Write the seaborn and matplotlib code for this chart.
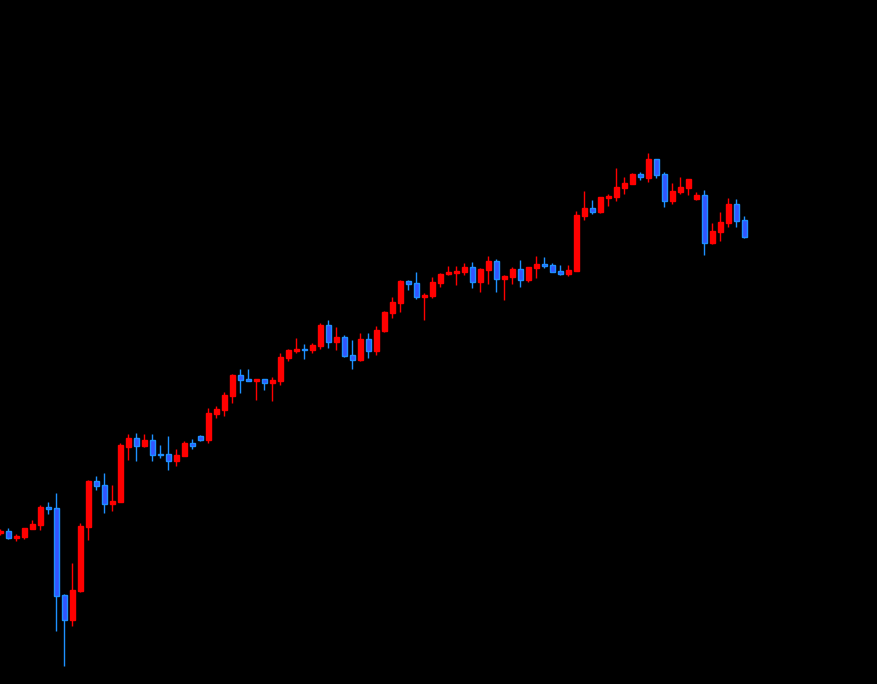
import numpy as np
import pandas as pd
import seaborn as sns
import matplotlib
matplotlib.use("Agg")
import matplotlib.pyplot as plt

# Estilo escuro, fundo preto
sns.set_theme(style="dark", rc={"axes.facecolor": "black", "figure.facecolor": "black"})

# Dados OHLC
abertura = [151, 153, 146, 147, 155, 159, 177, 176, 89, 64,
            93, 157, 203, 199, 180, 182, 237, 246, 238, 244,
            230, 230, 223, 228, 241, 248, 244, 270, 274, 288,
            309, 305, 303, 305, 301, 303, 326, 333, 335, 334,
            338, 359, 342, 347, 329, 324, 345, 333, 353, 371,
            381, 403, 401, 387, 388, 401, 410, 411, 412, 417,
            402, 414, 423, 405, 407, 415, 404, 416, 420, 419,
            413, 410, 413, 468, 476, 472, 486, 487, 496, 500,
            510, 506, 525, 510, 483, 492, 496, 485, 489, 441,
            452, 461, 480, 464]
maxima = [155, 156, 150, 156, 164, 179, 182, 191, 90, 121,
          161, 204, 208, 211, 199, 241, 250, 251, 250, 250,
          239, 248, 235, 243, 245, 249, 276, 278, 292, 310,
          315, 315, 305, 305, 307, 331, 335, 346, 340, 341,
          361, 364, 357, 349, 344, 351, 351, 358, 373, 387,
          404, 404, 412, 391, 407, 411, 418, 418, 421, 422,
          416, 428, 425, 409, 417, 424, 417, 428, 427, 421,
          419, 419, 473, 493, 484, 487, 490, 516, 507, 511,
          512, 531, 525, 512, 501, 507, 505, 492, 494, 461,
          472, 486, 485, 468]
minimas = [149, 145, 143, 145, 155, 154, 170, 53, 18, 58,
           92, 144, 194, 171, 173, 182, 224, 223, 237, 223,
           226, 214, 218, 228, 235, 243, 241, 266, 268, 281,
           291, 303, 284, 294, 283, 299, 323, 331, 325, 331,
           335, 336, 334, 327, 315, 323, 326, 329, 352, 366,
           372, 394, 385, 364, 386, 397, 409, 399, 409, 396,
           392, 400, 392, 384, 400, 397, 402, 406, 416, 412,
           409, 408, 413, 464, 470, 471, 478, 483, 490, 500,
           504, 502, 506, 477, 480, 490, 489, 484, 429, 440,
           443, 457, 457, 446]
fechamento = [153, 146, 148, 156, 160, 177, 175, 88, 64, 94,
              158, 203, 198, 180, 183, 239, 246, 238, 244, 229,
              229, 223, 229, 241, 238, 244, 271, 275, 289, 309,
              304, 303, 305, 301, 304, 327, 334, 335, 334, 339,
              359, 342, 347, 328, 324, 345, 333, 354, 372, 382,
              403, 400, 387, 389, 402, 410, 412, 413, 417, 402,
              415, 423, 405, 408, 415, 404, 417, 420, 418, 412,
              410, 414, 469, 476, 472, 487, 488, 497, 501, 510,
              507, 525, 509, 483, 493, 497, 505, 489, 441, 453,
              462, 480, 463, 447]

df = pd.DataFrame({"open": abertura, "high": maxima, "low": minimas, "close": fechamento})
df["x"] = np.arange(len(df))
df["alta"] = df["close"] >= df["open"]

cor_alta = "#ff0000"
cor_baixa_corpo = "#3355ff"
cor_baixa_borda = "#1e90ff"

fig = plt.figure(figsize=(8.77, 6.84), dpi=100)
ax = fig.add_axes([0, 0, 1, 1])
ax.set_facecolor("black")

# Pavios
cores_pavio = np.where(df["alta"], cor_alta, cor_baixa_borda)
ax.vlines(df["x"], df["low"], df["high"], colors=cores_pavio, linewidth=1)

# Corpos
base = df[["open", "close"]].min(axis=1)
altura = np.maximum((df["close"] - df["open"]).abs(), 1.5)
cores_corpo = np.where(df["alta"], cor_alta, cor_baixa_corpo)
cores_borda = np.where(df["alta"], cor_alta, cor_baixa_borda)
ax.bar(df["x"], altura, bottom=base, width=0.62, color=cores_corpo,
       edgecolor=cores_borda, linewidth=1, zorder=3)

ax.set_xlim(-0.06, -0.06 + 877 / 8)
ax.set_ylim(0, 684)
ax.axis("off")

fig.savefig("out.png", dpi=100, facecolor="black")
